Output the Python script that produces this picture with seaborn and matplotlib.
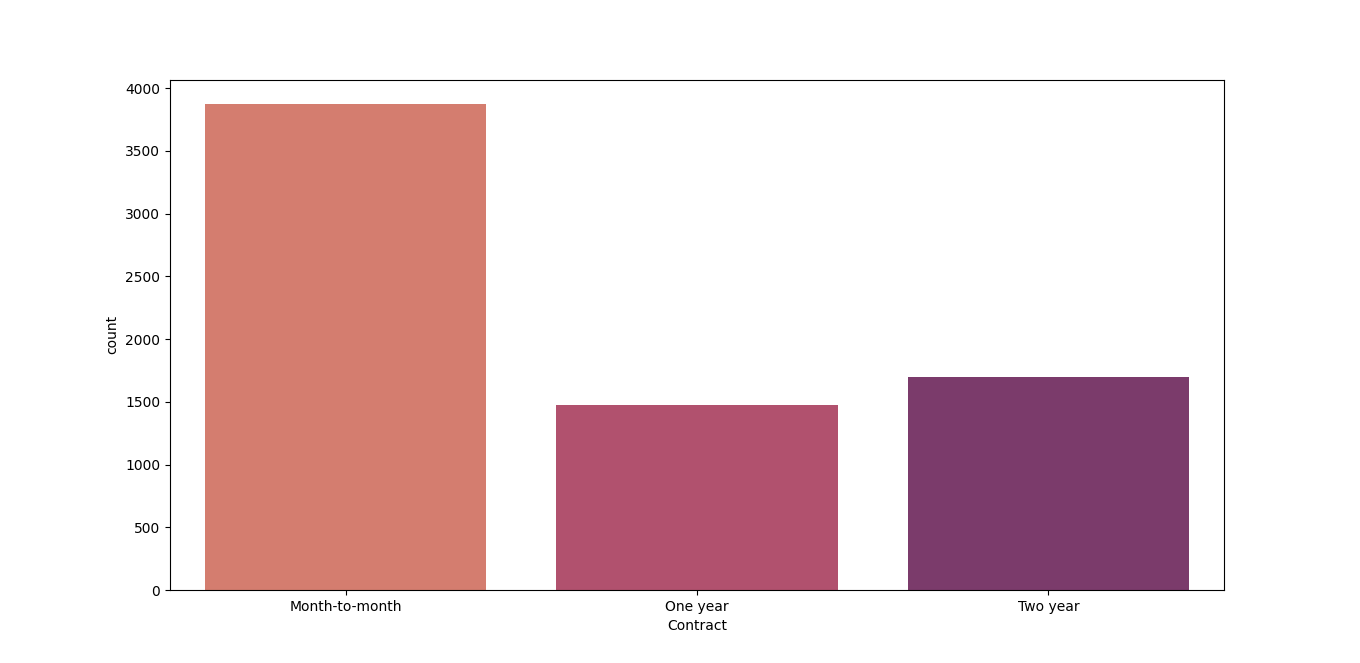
import matplotlib
matplotlib.use("Agg")
import matplotlib.pyplot as plt
import seaborn as sns
import pandas as pd

categories = ["Month-to-month", "One year", "Two year"]
counts = [3875, 1473, 1695]

df = pd.DataFrame({"Contract": categories, "count": counts})

fig, ax = plt.subplots(figsize=(13.6, 6.63), dpi=100)
sns.barplot(data=df, x="Contract", y="count", hue="Contract",
            palette="flare", legend=False, ax=ax, saturation=0.75)
fig.savefig("out.png", dpi=100)
